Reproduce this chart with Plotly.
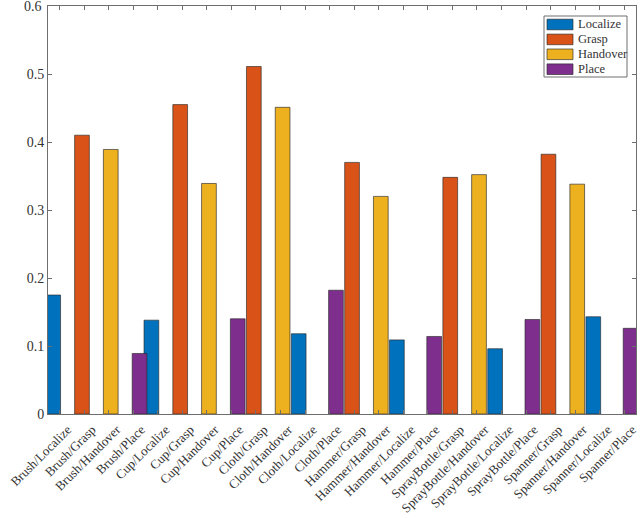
import plotly.graph_objects as go

categories = ["Brush/Localize", "Brush/Grasp", "Brush/Handover", "Brush/Place",
              "Cup/Localize", "Cup/Grasp", "Cup/Handover", "Cup/Place",
              "Cloth/Grasp", "Cloth/Handover", "Cloth/Localize", "Cloth/Place",
              "Hammer/Grasp", "Hammer/Handover", "Hammer/Localize", "Hammer/Place",
              "SprayBottle/Grasp", "SprayBottle/Handover", "SprayBottle/Localize", "SprayBottle/Place",
              "Spanner/Grasp", "Spanner/Handover", "Spanner/Localize", "Spanner/Place"]

localize_cats = ["Brush/Localize", "Cup/Localize", "Cloth/Localize", "Hammer/Localize", "SprayBottle/Localize", "Spanner/Localize"]
localize_vals = [0.175, 0.138, 0.118, 0.109, 0.096, 0.143]

grasp_cats = ["Brush/Grasp", "Cup/Grasp", "Cloth/Grasp", "Hammer/Grasp", "SprayBottle/Grasp", "Spanner/Grasp"]
grasp_vals = [0.410, 0.455, 0.511, 0.370, 0.348, 0.382]

handover_cats = ["Brush/Handover", "Cup/Handover", "Cloth/Handover", "Hammer/Handover", "SprayBottle/Handover", "Spanner/Handover"]
handover_vals = [0.389, 0.339, 0.451, 0.320, 0.352, 0.338]

place_cats = ["Brush/Place", "Cup/Place", "Cloth/Place", "Hammer/Place", "SprayBottle/Place", "Spanner/Place"]
place_vals = [0.089, 0.140, 0.182, 0.114, 0.139, 0.126]

y_ticks = [0, 0.1, 0.2, 0.3, 0.4, 0.5, 0.6]
y_tick_labels = ["0", "0.1", "0.2", "0.3", "0.4", "0.5", "0.6"]

series = [
    ("Localize", localize_cats, localize_vals, "#0072BD", -0.259),
    ("Grasp", grasp_cats, grasp_vals, "#D95319", -0.086),
    ("Handover", handover_cats, handover_vals, "#EDB120", 0.086),
    ("Place", place_cats, place_vals, "#7E2F8E", 0.259),
]

W, H = 640, 518
ML, MR, MT, MB = 48, 4, 6, 104
PW, PH = W - ML - MR, H - MT - MB

def px_x(p):
    return (p - ML) / PW

def px_y(p):
    return (MT + PH - p) / PH

bar_w = 0.6
edge = "rgba(40,40,40,0.8)"
fig = go.Figure()
for name, cats, vals, color, shift in series:
    fig.add_trace(go.Bar(
        x=cats, y=vals, name=name, showlegend=False,
        marker=dict(color=color, line=dict(color=edge, width=0.8)),
        width=bar_w, offset=shift - bar_w / 2,
    ))

font = "Liberation Serif"
axis_col = "#6e6e6e"
txt_col = "#333333"

# legend (drawn as shapes + text, MATLAB style)
shapes = [dict(type="rect", xref="paper", yref="paper",
               x0=px_x(544), x1=px_x(627), y0=px_y(77), y1=px_y(16),
               line=dict(color=axis_col, width=1), fillcolor="white", layer="above")]
annotations = []
for i, (name, cats, vals, color, shift) in enumerate(series):
    cy = 24.5 + i * 14.9
    shapes.append(dict(type="rect", xref="paper", yref="paper",
                       x0=px_x(547), x1=px_x(573), y0=px_y(cy + 5.3), y1=px_y(cy - 5.3),
                       line=dict(color=edge, width=0.8), fillcolor=color, layer="above"))
    annotations.append(dict(text=name, xref="paper", yref="paper",
                            x=px_x(576), y=px_y(cy), xanchor="left", yanchor="middle",
                            showarrow=False,
                            font=dict(family=font, size=12.5, color=txt_col)))

# top y tick label (plotly culls it at the edge)
annotations.append(dict(text=y_tick_labels[-1], xref="paper", yref="y",
                        x=0, y=y_ticks[-1], xanchor="right", yanchor="middle",
                        xshift=-4, showarrow=False,
                        font=dict(family=font, size=14, color=txt_col)))

fig.update_layout(
    width=W, height=H,
    barmode="overlay",
    paper_bgcolor="white", plot_bgcolor="white",
    margin=dict(l=ML, r=MR, t=MT, b=MB, autoexpand=False),
    font=dict(family=font, size=14, color=txt_col),
    showlegend=False,
    shapes=shapes,
    annotations=annotations,
    xaxis=dict(
        categoryorder="array", categoryarray=categories,
        range=[-0.47, 23.48], tickangle=-45, automargin=False,
        ticks="inside", ticklen=4, tickcolor=axis_col,
        ticklabelshift=8, ticklabelstandoff=2,
        showline=True, linecolor=axis_col, linewidth=1, mirror="ticks",
        showgrid=False, tickfont=dict(family=font, size=13, color=txt_col),
    ),
    yaxis=dict(
        range=[0, 0.6], tickvals=y_ticks[:-1], ticktext=y_tick_labels[:-1],
        automargin=False,
        ticks="inside", ticklen=4, tickcolor=axis_col,
        showline=True, linecolor=axis_col, linewidth=1, mirror="ticks",
        showgrid=False, zeroline=False,
        tickfont=dict(family=font, size=14, color=txt_col),
    ),
)

fig.write_html("out.html", config={"displayModeBar": False},
               post_script="document.body.style.margin='0';document.body.style.overflow='hidden';")
